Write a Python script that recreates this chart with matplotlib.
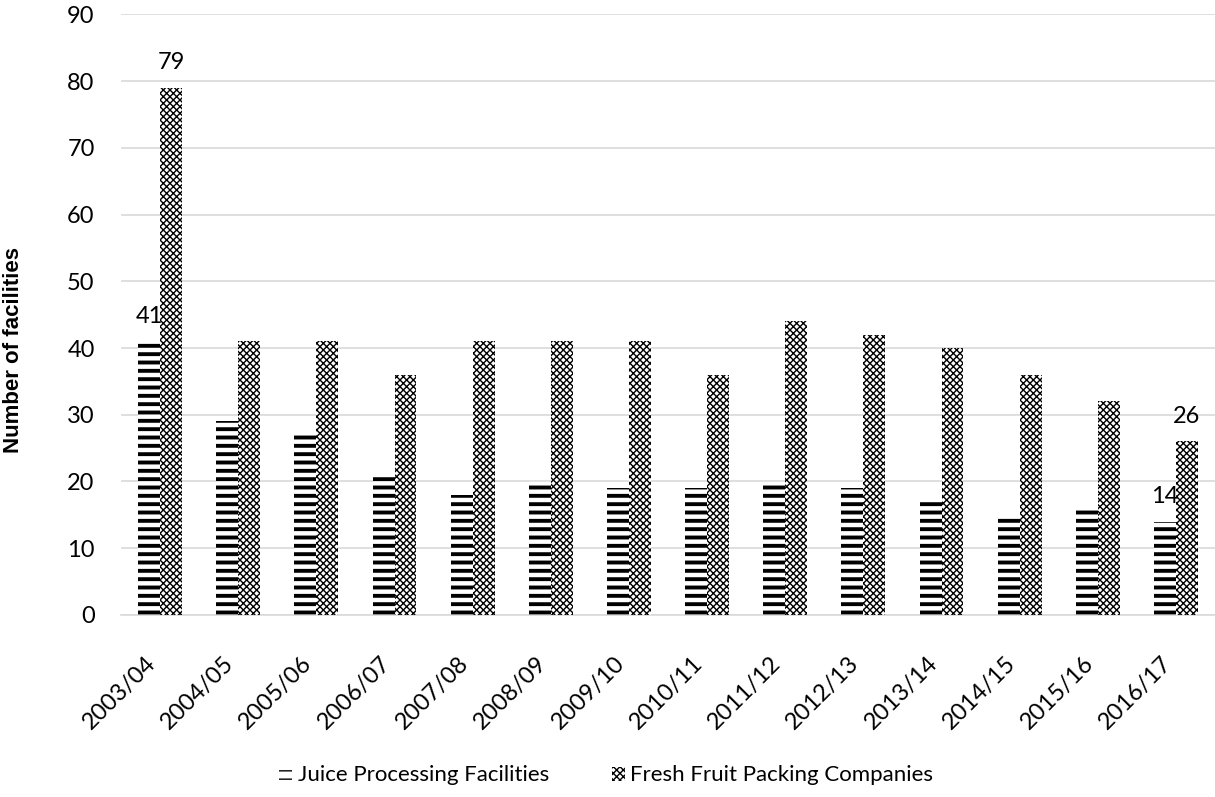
import numpy as np
import matplotlib

matplotlib.use("Agg")
import matplotlib.pyplot as plt
import matplotlib.transforms as mtransforms

seasons = ["2003/04", "2004/05", "2005/06", "2006/07", "2007/08", "2008/09", "2009/10",
           "2010/11", "2011/12", "2012/13", "2013/14", "2014/15", "2015/16", "2016/17"]
juice = [41, 29, 27, 21, 18, 20, 19, 19, 20, 19, 17, 15, 16, 14]
fresh = [79, 41, 41, 36, 41, 41, 41, 36, 44, 42, 40, 36, 32, 26]
labelled = [0, 13]  # seasons that carry value labels

plt.rcParams["font.family"] = ["Lato", "DejaVu Sans"]

fig = plt.figure(figsize=(12.15, 7.97), dpi=100)
ax = fig.add_axes([0.0996, 0.2284, 0.9004, 0.7536])

x = np.arange(len(seasons))
w = 0.28

with plt.rc_context({"hatch.linewidth": 2.8}):
    b1 = ax.bar(x - w / 2, juice, w, color="white", edgecolor="black", linewidth=0,
                hatch="--", label="Juice Processing Facilities", zorder=3)
with plt.rc_context({"hatch.linewidth": 1.0}):
    b2 = ax.bar(x + w / 2, fresh, w, color="white", edgecolor="black", linewidth=0,
                hatch="xxxxx", label="Fresh Fruit Packing Companies", zorder=3)

for i in labelled:
    ax.annotate(str(juice[i]), (x[i] - w / 2, juice[i]), xytext=(0, 18),
                textcoords="offset points", ha="center", va="center", fontsize=17, zorder=4)
    ax.annotate(str(fresh[i]), (x[i] + w / 2, fresh[i]), xytext=(0, 18),
                textcoords="offset points", ha="center", va="center", fontsize=17, zorder=4)

ax.set_xlim(-0.5, len(seasons) - 0.5)
ax.set_ylim(0, 90)
ax.set_yticks(range(0, 91, 10))
ax.yaxis.grid(True, color="#d9d9d9", linewidth=1.2, zorder=0)
ax.set_axisbelow(True)
for s in ["top", "right", "left"]:
    ax.spines[s].set_visible(False)
ax.spines["bottom"].set_color("#d9d9d9")
ax.spines["bottom"].set_linewidth(1.2)
ax.tick_params(axis="both", length=0, labelsize=17)
ax.tick_params(axis="y", pad=19)
ax.tick_params(axis="x", pad=27)

ax.set_xticks(x)
ax.set_xticklabels(seasons, rotation=45, ha="right", rotation_mode="anchor")
shift = mtransforms.ScaledTranslation(-0.15, 0, fig.dpi_scale_trans)
for lbl in ax.get_xticklabels():
    lbl.set_transform(lbl.get_transform() + shift)

ax.set_ylabel("Number of facilities", fontsize=16, fontweight="bold",
              family="Liberation Sans", va="center")
ax.yaxis.set_label_coords(-0.0985, 0.441)

fig.legend(handles=[b1, b2], loc="center", bbox_to_anchor=(0.499, 0.027), ncol=2,
           frameon=False, fontsize=16, handlelength=0.6, handleheight=0.6,
           handletextpad=0.25, columnspacing=2.8)

fig.savefig("out.png", dpi=100)
